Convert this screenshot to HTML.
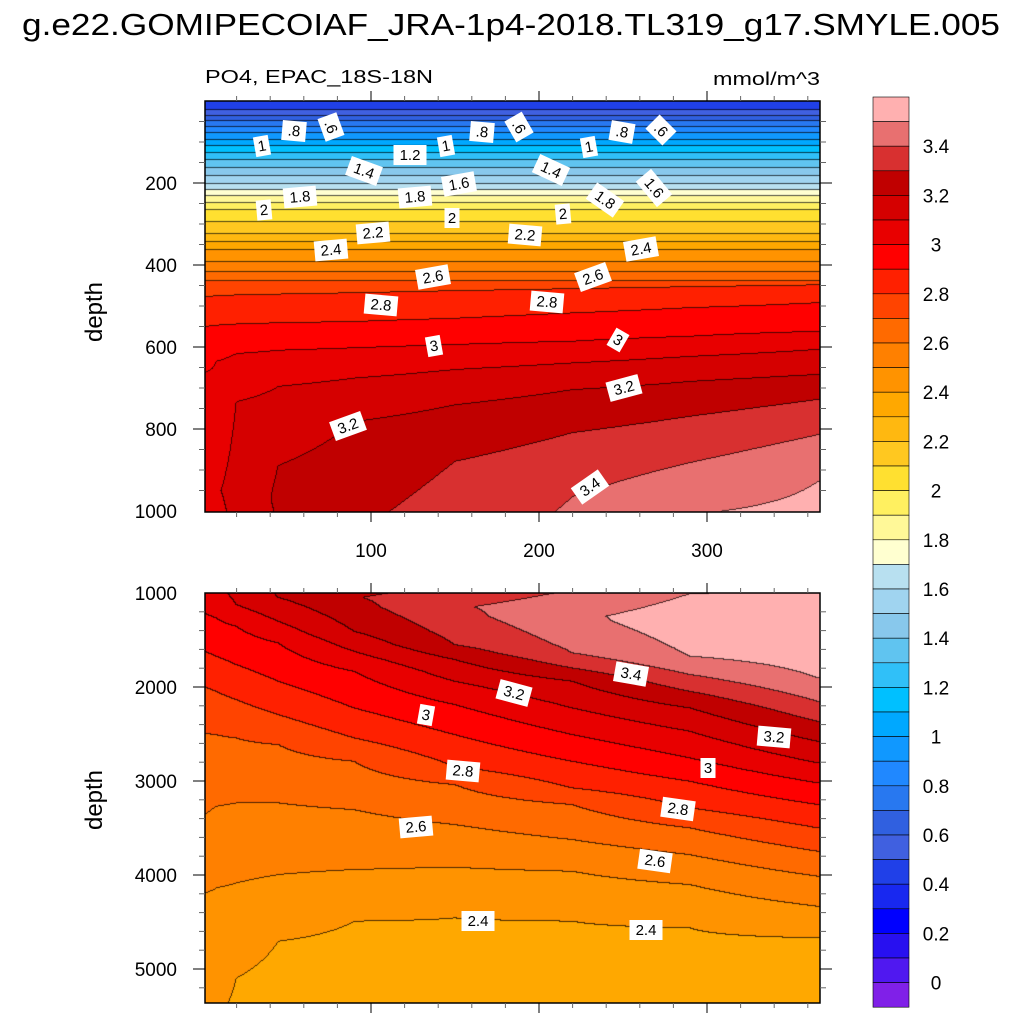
<!DOCTYPE html>
<html><head><meta charset="utf-8">
<style>
html,body{margin:0;padding:0;background:#fff;}
#root{position:relative;width:1024px;height:1024px;overflow:hidden;font-family:"Liberation Sans",sans-serif;}
canvas{position:absolute;}
svg{position:absolute;left:0;top:0;}
</style></head>
<body>
<div id="root">
<canvas id="cTop" width="615" height="411" style="left:205px;top:101px"></canvas>
<canvas id="cBot" width="615" height="410" style="left:205px;top:593px"></canvas>
<svg id="ov" width="1024" height="1024">
<text x="22" y="35" font-size="31" textLength="978" lengthAdjust="spacingAndGlyphs" fill="#000">g.e22.GOMIPECOIAF_JRA-1p4-2018.TL319_g17.SMYLE.005</text>
<text x="205" y="83" font-size="18" textLength="228" lengthAdjust="spacingAndGlyphs" fill="#000">PO4, EPAC_18S-18N</text>
<text x="713" y="85" font-size="18" textLength="107" lengthAdjust="spacingAndGlyphs" fill="#000">mmol/m^3</text>
<text transform="translate(102,312) rotate(-90)" font-size="24" text-anchor="middle" fill="#000">depth</text>
<text transform="translate(102,800) rotate(-90)" font-size="24" text-anchor="middle" fill="#000">depth</text>
<g id="axes"></g>
<g id="labels"></g>
<g id="cbar"></g>
</svg>
</div>
<script>
// ---- data ----
const days=[1,8,20,45,90,150,220,290,366];
const N=null;
const surfaceValue=[0.42,0.42,0.42,0.42,0.42,0.42,0.42,0.42,0.42];
const shallowLevels=[0.5,0.6,0.7,0.8,0.9,1.0,1.1,1.2,1.3,1.4,1.5,1.6,1.7,1.8,1.9,2.0,2.1,2.2,2.3,2.4,2.5,2.6,2.7];
const shallowDepths=[22,37,49,63,78,95,110,127,144,163,183,202,217,232,249,266,295,324,344,363,393,417,440];
const upper28=[478,476,474,472,468,463,458,453,449];
const upper29=[551,548,545,542,539,531,518,505,493];
const upper30=[663,636,617,609,603,595,587,575,563];
const upper31=[N,N,734,697,677,656,640,624,607];
const upper32=[N,N,N,890,783,742,705,685,668];
const upper33=[N,N,N,N,N,880,810,770,729];
const upper34=[N,N,N,N,N,N,966,883,815];
const upper35=[N,N,N,N,N,N,N,1010,929];
const peakDepth=[900,950,950,970,1050,1150,1250,1300,1350];
const peakValue=[3.07,3.09,3.13,3.215,3.295,3.39,3.48,3.56,3.62];
const lower35=[N,N,N,N,N,N,N,1677,1908];
const lower34=[N,N,N,N,N,N,1642,1872,2156];
const lower33=[N,N,N,N,N,1553,1802,2050,2369];
const lower32=[N,N,N,1050,1411,1713,1943,2227,2582];
const lower31=[N,N,1128,1305,1624,1943,2227,2475,2812];
const lower30=[1216,1270,1358,1536,1837,2191,2511,2759,3025];
const lower29=[1624,1677,1766,1943,2227,2511,2795,3007,3255];
const lower28=[1996,2050,2138,2298,2546,2848,3078,3291,3504];
const lower27=[2493,2511,2546,2617,2795,3043,3255,3504,3752];
const lower26=[3362,3273,3238,3238,3309,3468,3628,3788,4018];
const lower25=[4195,4142,4089,4000,3947,3922,3965,4106,4337];
const lower24=[N,N,5099,4709,4496,4461,4496,4567,4674];
const bottomValue=[2.44,2.41,2.39,2.36,2.34,2.34,2.34,2.34,2.34];
const cbarLabels=["3.4","3.2","3","2.8","2.6","2.4","2.2","2","1.8","1.6","1.4","1.2","1","0.8","0.6","0.4","0.2","0"];
const cbarLabelValues=[3.4,3.2,3.0,2.8,2.6,2.4,2.2,2.0,1.8,1.6,1.4,1.2,1.0,0.8,0.6,0.4,0.2,0];
const bandColors=["#ffb0b0","#e87070","#d83030","#c00000","#d50000","#e80000","#ff0000","#ff2000","#ff4400","#ff6a00","#ff8000","#ff9300","#ffa800","#ffb810","#ffc820","#ffe030","#fff060","#fff898","#ffffd0","#b8e0f0","#a0d4f0","#88c8ec","#60c4f0","#30c0f8","#00c0ff","#00a8ff","#1098ff","#2088ff","#2878f0","#3060e0","#4060e0","#2040e8","#1828f0","#0000ff","#2810f0","#5018f0","#8020e8"];
const topTicks=[200,400,600,800,1000];
const botTicks=[1000,2000,3000,4000,5000];
const xTicks=[100,200,300];

// ---- scales ----
const dayToX=d=>203+1.68*d;
const topY=z=>101+0.41*z;
const botY=z=>593+0.094*(z-1000);

// ---- profiles ----
const upperSets=[[2.8,upper28],[2.9,upper29],[3.0,upper30],[3.1,upper31],[3.2,upper32],[3.3,upper33],[3.4,upper34],[3.5,upper35]];
const lowerSets=[[3.5,lower35],[3.4,lower34],[3.3,lower33],[3.2,lower32],[3.1,lower31],[3.0,lower30],[2.9,lower29],[2.8,lower28],[2.7,lower27],[2.6,lower26],[2.5,lower25],[2.4,lower24]];
const profiles=days.map((d,ci)=>{
  const p=[[0,surfaceValue[ci]]];
  shallowLevels.forEach((l,i)=>p.push([shallowDepths[i],l]));
  upperSets.forEach(([l,a])=>{if(a[ci]!=null)p.push([a[ci],l]);});
  p.push([peakDepth[ci],peakValue[ci]]);
  lowerSets.forEach(([l,a])=>{if(a[ci]!=null)p.push([a[ci],l]);});
  p.push([5400,bottomValue[ci]]);
  p.sort((a,b)=>a[0]-b[0]);
  return p;
});
function profVal(ci,z){
  const p=profiles[ci];
  if(z<=p[0][0])return p[0][1];
  for(let i=1;i<p.length;i++){
    if(z<=p[i][0]){const t=(z-p[i-1][0])/(p[i][0]-p[i-1][0]);return p[i-1][1]+t*(p[i][1]-p[i-1][1]);}
  }
  return p[p.length-1][1];
}
function field(d,z){
  if(d<=days[0])return profVal(0,z);
  for(let i=1;i<days.length;i++){
    if(d<=days[i]){const t=(d-days[i-1])/(days[i]-days[i-1]);return profVal(i-1,z)*(1-t)+profVal(i,z)*t;}
  }
  return profVal(days.length-1,z);
}
function bandIndex(v){
  const k=Math.floor(v*10+1e-9);
  let idx=35-k;
  if(idx<0)idx=0; if(idx>36)idx=36;
  return idx;
}
function hex(c){return [parseInt(c.substr(1,2),16),parseInt(c.substr(3,2),16),parseInt(c.substr(5,2),16)];}
const rgb=bandColors.map(hex);
function render(id,w,h,zOf){
  const cv=document.getElementById(id),ctx=cv.getContext('2d');
  const img=ctx.createImageData(w,h);
  const B=new Int16Array(w*h);
  for(let x=0;x<w;x++){
    const d=(205+x+0.5-203)/1.68;
    for(let y=0;y<h;y++){B[y*w+x]=bandIndex(field(d,zOf(y+0.5)));}
  }
  for(let y=0;y<h;y++)for(let x=0;x<w;x++){
    const b=B[y*w+x];let c=rgb[b];
    const edge=(x<w-1&&B[y*w+x+1]!==b)||(y<h-1&&B[(y+1)*w+x]!==b);
    const o=(y*w+x)*4;
    const f=edge?0.3:1;
    img.data[o]=c[0]*f;img.data[o+1]=c[1]*f;img.data[o+2]=c[2]*f;img.data[o+3]=255;
  }
  ctx.putImageData(img,0,0);
}
render('cTop',615,411,y=>y/0.41);
render('cBot',615,410,y=>1000+y/0.094);

// ---- axes ----
const NS='http://www.w3.org/2000/svg';
function mk(tag,attrs,parent){const e=document.createElementNS(NS,tag);for(const k in attrs)e.setAttribute(k,attrs[k]);parent.appendChild(e);return e;}
const axes=document.getElementById('axes');
[[101,512,'upper'],[593,1003,'lower']].forEach(([t,b,nm])=>{
  const r=mk('rect',{x:205,y:t,width:615,height:b-t,fill:'none',stroke:'#000','stroke-width':1.5},axes);
  
  
  for(let d=20;d<=360;d+=20){
    const x=dayToX(d);const major=d%100===0;const L=major?10:5;
    const t1=mk('line',{x1:x,x2:x,y1:t,y2:t-L,stroke:major?'#000':'#666','stroke-width':1},axes);
    
    
    const t2=mk('line',{x1:x,x2:x,y1:b,y2:b+L,stroke:major?'#000':'#666','stroke-width':1},axes);
    
    
  }
});
for(let z=50;z<1000;z+=50){
  const y=topY(z);const major=z%200===0;const L=major?12:6;
  [[205,205-L],[820,820+L]].forEach(([a,c])=>{
    const l=mk('line',{x1:a,x2:c,y1:y,y2:y,stroke:major?'#000':'#666','stroke-width':1},axes);
    
    
  });
}
for(let z=1200;z<=5200;z+=200){
  const y=botY(z);const major=z%1000===0;const L=major?12:6;
  [[205,205-L],[820,820+L]].forEach(([a,c])=>{
    const l=mk('line',{x1:a,x2:c,y1:y,y2:y,stroke:major?'#000':'#666','stroke-width':1},axes);
    
    
  });
}
topTicks.forEach(z=>{
  const t=mk('text',{x:177,y:topY(z)+7,'font-size':19,'text-anchor':'end'},axes);t.textContent=String(z);
  
  
});
botTicks.forEach(z=>{
  const t=mk('text',{x:177,y:botY(z)+7,'font-size':19,'text-anchor':'end'},axes);t.textContent=String(z);
  
  
});
xTicks.forEach(d=>{
  const t=mk('text',{x:dayToX(d),y:557,'font-size':19,'text-anchor':'middle'},axes);t.textContent=String(d);
  
  
});

// ---- contour labels ----
const lblText=["1",".8",".6","1.4","1.2","1",".8",".6","1.4","1",".8",".6","1.8","2","1.8","1.6","2","2","1.8","1.6","2.4","2.2","2.2","2.4","2.6","2.6","2.8","2.8","3","3","3.2","3.2","3.4",
"3.4","3.2","3","2.8","3","3.2","2.8","2.6","2.6","2.4","2.4"];
const lblX=[262,294,331,364,410,446,482,519,551,589,622,661,300,264,415,459,452,563,605,654,331,373,525,641,433,593,381,547,434,618,348,624,590,
631,514,426,463,708,774,678,416,655,478,646];
const lblY=[146,131,127,171,155,146,132,127,170,147,132,130,197,210,197,184,218,214,200,188,250,233,235,249,277,277,305,302,346,340,426,388,487,
674,693,715,771,768,737,809,827,861,921,930];
const lblAng=[-10,5,70,20,0,-10,5,60,25,-10,10,45,-5,-5,-5,-10,0,-5,35,50,-5,-5,5,-10,-10,-20,5,5,-10,30,-20,-15,-35,
10,15,10,5,0,5,8,-5,8,0,0];
const lg=document.getElementById('labels');
lblText.forEach((s,i)=>{
  const g=mk('g',{transform:`translate(${lblX[i]},${lblY[i]}) rotate(${lblAng[i]})`},lg);
  
  
  const w=s.length*9+6;
  mk('rect',{x:-w/2,y:-10,width:w,height:20,fill:'#fff'},g);
  const t=mk('text',{x:0,y:5,'font-size':15,'text-anchor':'middle',fill:'#000'},g);t.textContent=s;
});

// ---- colorbar ----
const cb=document.getElementById('cbar');
const cbTop=97,cbH=24.6;
bandColors.forEach((c,i)=>{
  const r=mk('rect',{x:873,y:cbTop+i*cbH,width:36,height:cbH,fill:c,stroke:'#000','stroke-width':0.6},cb);
  
  
});
cbarLabels.forEach((s,i)=>{
  const y=cbTop+(3.6-cbarLabelValues[i])*10*cbH;
  const t=mk('text',{x:936,y:y+7,'font-size':19,'text-anchor':'middle'},cb);t.textContent=s;
  
  
});
</script>
</body></html>
